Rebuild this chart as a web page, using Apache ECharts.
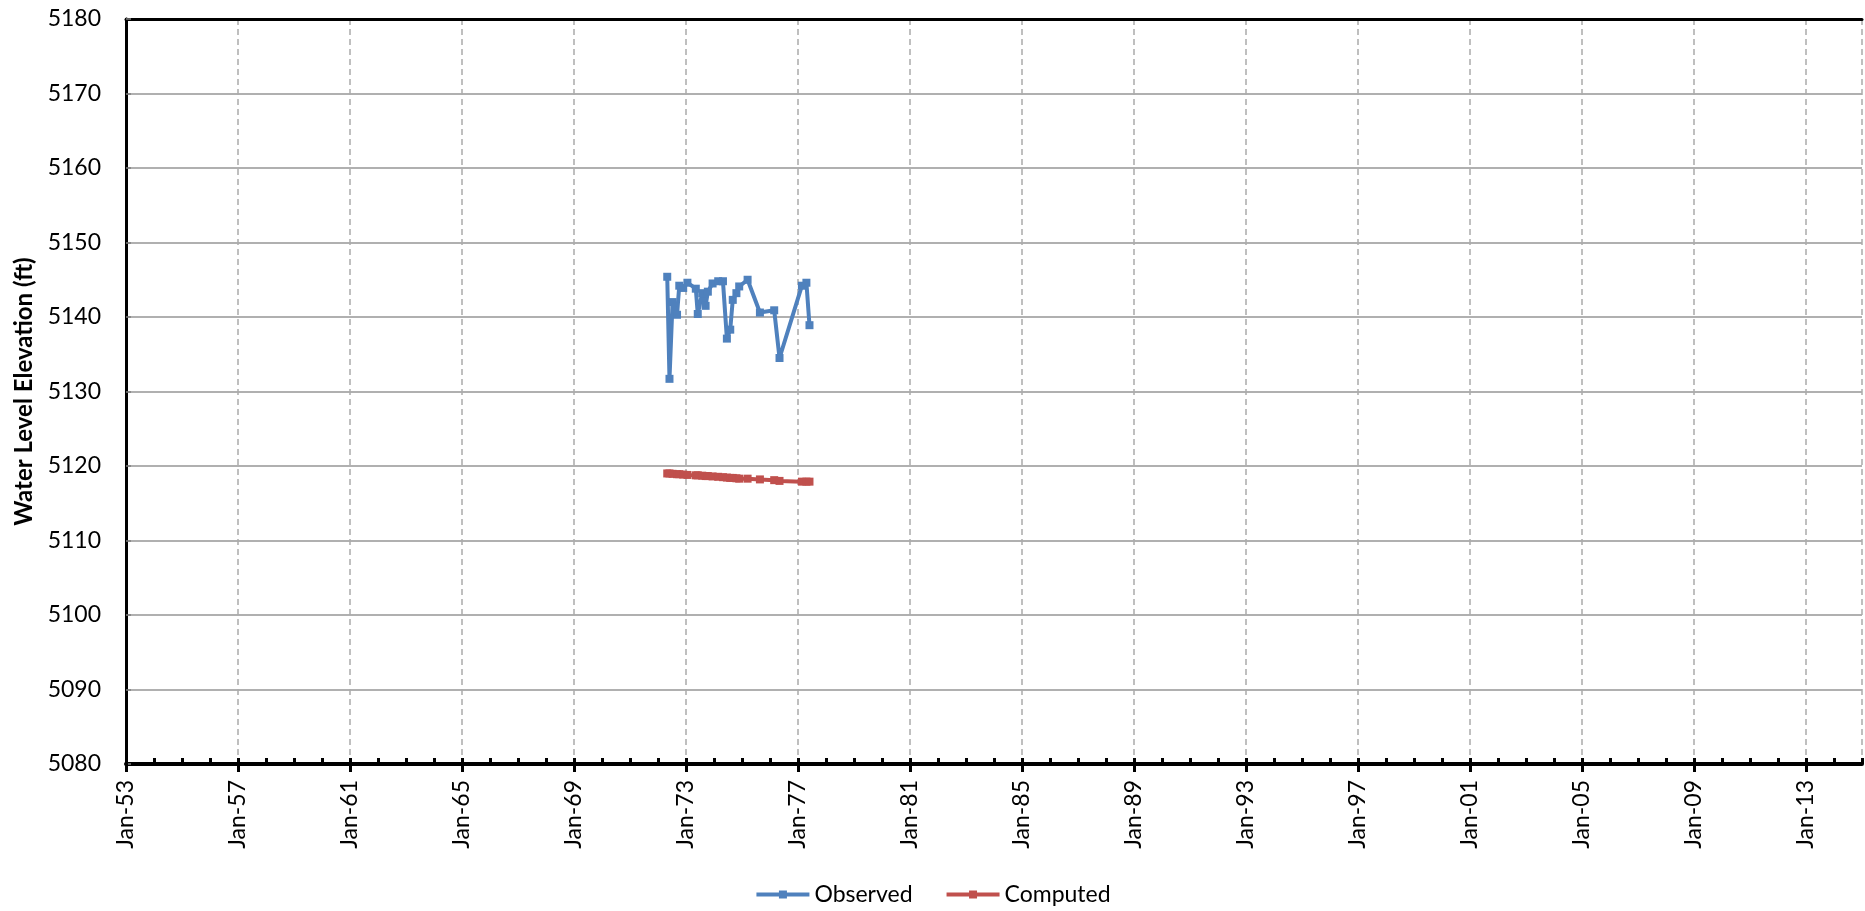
<!DOCTYPE html>
<html>
<head>
<meta charset="utf-8">
<script src="https://cdn.jsdelivr.net/npm/echarts@6/dist/echarts.min.js"></script>
<style>
    html, body { margin: 0; padding: 0; background: #fff; }
    #chart { width: 1865px; height: 911px; }
</style>
</head>
<body>
<div id="chart"></div>
<script>
    // dates as decimal years
    const obsDates = [1972.33, 1972.41, 1972.52, 1972.68, 1972.76, 1972.90, 1973.05, 1973.35, 1973.42,
        1973.58, 1973.70, 1973.78, 1973.95, 1974.15, 1974.32, 1974.46, 1974.58, 1974.67, 1974.80,
        1974.90, 1975.20, 1975.64, 1976.15, 1976.34, 1977.14, 1977.30, 1977.41]
    const obsValues = [5145.4, 5131.7, 5142.0, 5140.3, 5144.2, 5143.9, 5144.6, 5143.8, 5140.4,
        5143.2, 5141.5, 5143.4, 5144.5, 5144.8, 5144.8, 5137.1, 5138.3, 5142.3, 5143.2,
        5144.1, 5145.0, 5140.6, 5140.9, 5134.5, 5144.2, 5144.6, 5138.9]
    const compValues = [5119.0, 5119.0, 5118.95, 5118.9, 5118.9, 5118.85, 5118.8, 5118.75, 5118.75,
        5118.7, 5118.65, 5118.65, 5118.6, 5118.55, 5118.5, 5118.45, 5118.4, 5118.4, 5118.35,
        5118.3, 5118.3, 5118.2, 5118.1, 5118.0, 5117.9, 5117.9, 5117.9]

    const startYear = 1953   // x axis is counted in years from Jan-53
    const yearSpan = 62
    const yTicks = { min: 5080, max: 5180, step: 10 }

    const font = 'Lato'
    const toXY = (dates, vals) => dates.map((d, i) => [d - startYear, vals[i]])

    // plain black frame lines (top / right), drawn as bare axes so they sit above the grid lines
    const frameX = {
        type: 'value', position: 'top', min: 0, max: yearSpan,
        axisLine: { show: true, lineStyle: { color: '#000', width: 3 } },
        axisTick: { show: false }, axisLabel: { show: false }, splitLine: { show: false }
    }
    const frameY = {
        type: 'value', position: 'right', min: yTicks.min, max: yTicks.max,
        axisLine: { show: true, lineStyle: { color: '#000', width: 3 } },
        axisTick: { show: false }, axisLabel: { show: false }, splitLine: { show: false }
    }

    const chart = echarts.init(document.getElementById('chart'))
    chart.setOption({
        animation: false,
        textStyle: { fontFamily: font },
        grid: { left: 126, top: 19, width: 1736, height: 745 },
        legend: {
            left: 'center', top: 878,
            itemWidth: 53, itemHeight: 10, itemGap: 32,
            lineStyle: { width: 4 },
            textStyle: { fontFamily: font, fontSize: 23, color: '#000' },
            data: ['Observed', 'Computed']
        },
        xAxis: [{
            type: 'value',
            min: 0, max: yearSpan, interval: 4,
            axisLine: { lineStyle: { color: '#000', width: 4 } },
            axisTick: { inside: false, length: 8, lineStyle: { color: '#000', width: 3 } },
            axisLabel: {
                rotate: 90, margin: 16, fontSize: 23, color: '#000', fontFamily: font,
                showMaxLabel: false,
                formatter: v => v % 4 ? '' : 'Jan-' + String((startYear + v) % 100).padStart(2, '0')
            },
            splitLine: { show: true, lineStyle: { color: '#ababab', width: 1.5, type: [6, 4] } }
        }, {
            // yearly minor ticks pointing into the plot
            type: 'value', position: 'bottom',
            min: 0, max: yearSpan, interval: 1,
            axisLine: { show: false },
            axisTick: { inside: true, length: 6, lineStyle: { color: '#000', width: 3 } },
            axisLabel: { show: false },
            splitLine: { show: false }
        }, frameX],
        yAxis: [{
            type: 'value',
            min: yTicks.min, max: yTicks.max, interval: yTicks.step,
            name: 'Water Level Elevation (ft)',
            nameLocation: 'middle', nameGap: 88,
            nameTextStyle: { fontSize: 24, fontWeight: 'bold', color: '#000', fontFamily: font },
            axisLine: { show: true, lineStyle: { color: '#7f7f7f', width: 3 } },
            axisTick: { show: true, inside: true, length: 5, lineStyle: { color: '#7f7f7f', width: 1.5 } },
            axisLabel: { margin: 25, fontSize: 23, color: '#000', fontFamily: font, formatter: v => String(v) },
            splitLine: { show: true, lineStyle: { color: '#969696', width: 1.5 } }
        }, frameY],
        series: [{
            name: 'Observed',
            type: 'line',
            data: toXY(obsDates, obsValues),
            symbol: 'rect', symbolSize: 8,
            itemStyle: { color: '#4F81BD' },
            lineStyle: { color: '#4F81BD', width: 4 }
        }, {
            name: 'Computed',
            type: 'line',
            data: toXY(obsDates, compValues),
            symbol: 'rect', symbolSize: 8,
            itemStyle: { color: '#C0504D' },
            lineStyle: { color: '#C0504D', width: 4 }
        }]
    })
</script>
</body>
</html>
